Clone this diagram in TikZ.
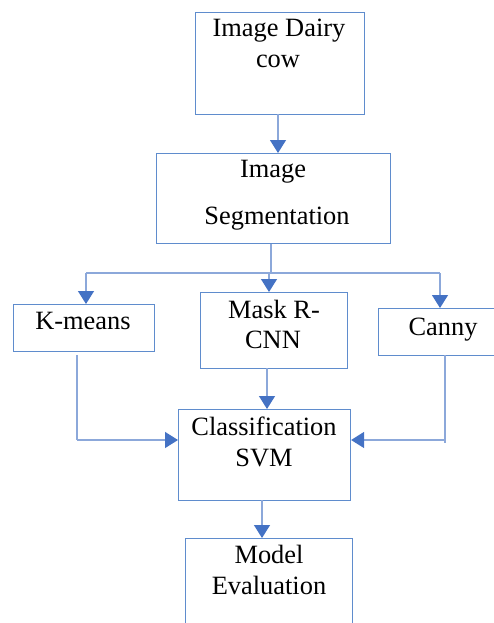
\documentclass[tikz,border=0pt]{standalone}
\usepackage{fontspec}
\setmainfont{Liberation Serif}
\usetikzlibrary{arrows.meta}
\definecolor{boxblue}{RGB}{95,140,205}
\definecolor{lineblue}{RGB}{140,168,218}
\definecolor{tipblue}{RGB}{68,114,196}
\begin{document}
\begin{tikzpicture}[x=1pt,y=-1pt,
  box/.style={draw=boxblue,line width=1.1pt,rectangle,inner sep=0pt,anchor=north west},
  txt/.style={anchor=base,inner sep=0pt,font=\fontsize{26.4}{30}\selectfont},
  conn/.style={draw=lineblue,line width=1.3pt},
  arr/.style={conn,-{Triangle[width=16pt,length=13pt,fill=tipblue,color=tipblue]}}]
\useasboundingbox (0,0) rectangle (494,623);
\clip (0,0) rectangle (494,623);
% boxes
\node[box,minimum width=169pt,minimum height=102pt] (b1) at (195,12) {};
\node[box,minimum width=234pt,minimum height=90pt] (b2) at (156,153) {};
\node[box,minimum width=141pt,minimum height=47pt] (km) at (13,304) {};
\node[box,minimum width=147pt,minimum height=76pt] (mask) at (200,292) {};
\node[box,minimum width=130pt,minimum height=47pt] (canny) at (378,308) {};
\node[box,minimum width=172pt,minimum height=91pt] (cls) at (178,409) {};
\node[box,minimum width=167pt,minimum height=110pt] (model) at (185,538) {};
% texts
\node[txt] (t1a) at (279,37) {Image Dairy};
\node[txt] (t1b) at (278,68) {cow};
\node[txt] (t2a) at (273,177) {Image};
\node[txt] (t2b) at (277,224) {Segmentation};
\node[txt] (tkm) at (83,329) {K-means};
\node[txt] (tma) at (274,318) {Mask R-};
\node[txt] (tmb) at (273,348) {CNN};
\node[txt] (tca) at (443,335) {Canny};
\node[txt] (tcla) at (264,435) {Classification};
\node[txt] (tclb) at (264,466) {SVM};
\node[txt] (tmoa) at (269,563) {Model};
\node[txt] (tmob) at (269,594) {Evaluation};
% coordinates
\coordinate (a1) at (278,114);
\coordinate (split) at (271,273);
\coordinate (jk) at (86,273);
\coordinate (jc) at (440,273);
\coordinate (jm) at (269,273);
\coordinate (ks) at (77,355);
\coordinate (kd) at (77,440);
\coordinate (cs) at (445,355);
\coordinate (cd) at (445,440);
\coordinate (cend) at (445,443);
\coordinate (ms) at (267,368);
\coordinate (cls2) at (262,500);
% connectors
\draw[arr] (a1) -- (a1 |- b2.north);
\draw[conn] (split |- b2.south) -- (split);
\draw[conn] (jk) -- (jc);
\draw[arr] (jk) -- (jk |- km.north);
\draw[arr] (jm) -- (jm |- mask.north);
\draw[arr] (jc) -- (jc |- canny.north);
\draw[conn] (ks) -- (kd);
\draw[arr] (kd) -- (kd -| cls.west);
\draw[conn] (cs) -- (cend);
\draw[arr] (cd) -- (cd -| cls.east);
\draw[arr] (ms) -- (ms |- cls.north);
\draw[arr] (cls2) -- (cls2 |- model.north);
\end{tikzpicture}
\end{document}
